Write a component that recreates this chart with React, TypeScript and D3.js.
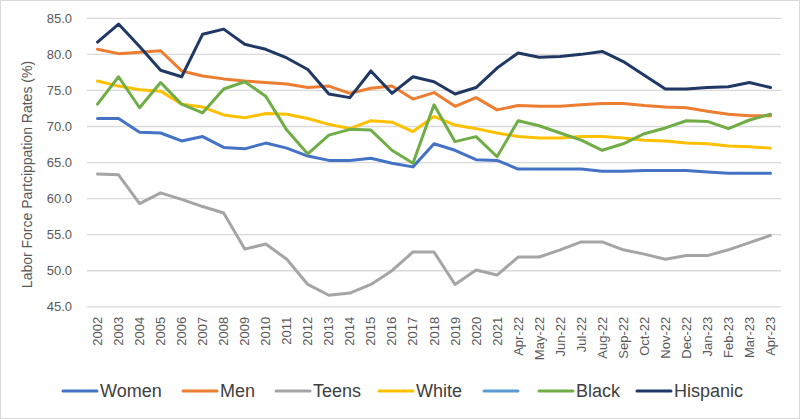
import React from "react";
import * as d3 from "d3";

const categories = [
  "2002","2003","2004","2005","2006","2007","2008","2009","2010","2011",
  "2012","2013","2014","2015","2016","2017","2018","2019","2020","2021",
  "Apr-22","May-22","Jun-22","Jul-22","Aug-22","Sep-22","Oct-22","Nov-22",
  "Dec-22","Jan-23","Feb-23","Mar-23","Apr-23",
];

const women = [71.1,71.1,69.2,69.1,68.0,68.6,67.1,66.9,67.7,67.0,65.9,65.3,65.3,65.6,64.9,64.4,67.6,66.7,65.4,65.3,64.1,64.1,64.1,64.1,63.8,63.8,63.9,63.9,63.9,63.7,63.5,63.5,63.5];
const men = [80.7,80.1,80.3,80.5,77.7,77.0,76.6,76.3,76.1,75.9,75.4,75.6,74.6,75.3,75.6,73.8,74.7,72.8,74.0,72.3,72.9,72.8,72.8,73.0,73.2,73.2,72.9,72.7,72.6,72.1,71.7,71.5,71.5];
const teens = [63.4,63.3,59.3,60.8,59.9,58.9,58.0,53.0,53.7,51.6,48.1,46.6,46.9,48.1,50.0,52.6,52.6,48.1,50.1,49.4,51.9,51.9,52.9,54.0,54.0,52.9,52.3,51.6,52.1,52.1,52.9,53.9,54.9];
const white = [76.3,75.6,75.1,74.9,73.1,72.7,71.6,71.2,71.8,71.7,71.1,70.3,69.7,70.8,70.6,69.3,71.4,70.2,69.7,69.1,68.6,68.4,68.4,68.6,68.6,68.4,68.1,68.0,67.7,67.6,67.3,67.2,67.0];
const black = [73.1,76.9,72.6,76.1,73.1,71.9,75.2,76.2,74.2,69.5,66.2,68.8,69.6,69.5,66.7,64.9,73.0,67.9,68.6,65.8,70.8,70.1,69.1,68.1,66.7,67.6,69.0,69.8,70.8,70.7,69.7,70.9,71.7];
const hispanic = [81.7,84.2,81.1,77.8,76.9,82.8,83.5,81.4,80.7,79.5,77.9,74.5,74.0,77.7,74.6,76.9,76.2,74.5,75.4,78.1,80.2,79.6,79.7,80.0,80.4,79.0,77.1,75.2,75.2,75.4,75.5,76.1,75.4];

const yTicks = [45, 50, 55, 60, 65, 70, 75, 80, 85];

const seriesNames = ["Women", "Men", "Teens", "White", "", "Black", "Hispanic"];
const seriesColors = ["#4472C4", "#ED7D31", "#A5A5A5", "#FFC000", "#5B9BD5", "#70AD47", "#203864"];
const seriesData: (number[] | null)[] = [women, men, teens, white, null, black, hispanic];
const drawOrder = [0, 1, 2, 3, 5, 6];
const legendX = [63, 183, 276, 379, 484, 539, 637];

const W = 800, H = 419;
const plot = { left: 87, right: 781, top: 18.3, bottom: 306.8 };
const FONT = "'Liberation Sans', Arial, sans-serif";

export default function App() {
  const x = d3.scaleBand<string>().domain(categories).range([plot.left, plot.right]).padding(0);
  const y = d3.scaleLinear().domain([45, 85]).range([plot.bottom, plot.top]);
  const cx = (c: string) => (x(c) as number) + x.bandwidth() / 2;

  const line = d3
    .line<number>()
    .x((_, i) => cx(categories[i]))
    .y((v) => y(v));

  return (
    <svg
      width={W}
      height={H}
      style={{ position: "absolute", left: 0, top: 0, background: "#fff" }}
      fontFamily={FONT}
    >
      <rect x={0.5} y={0.5} width={W - 1} height={H - 1} fill="#fff" stroke="#d9d9d9" />
      {yTicks.map((t) => (
        <g key={t}>
          <line x1={plot.left} x2={plot.right} y1={y(t)} y2={y(t)} stroke="#d9d9d9" strokeWidth={1.3} />
          <text x={72} y={y(t)} dy="0.35em" textAnchor="end" fontSize={13} fill="#595959">
            {t.toFixed(1)}
          </text>
        </g>
      ))}
      {categories.map((c) => (
        <text
          key={c}
          transform={`translate(${cx(c) + 4.5},${plot.bottom + 10}) rotate(-90)`}
          textAnchor="end"
          fontSize={13}
          fill="#595959"
        >
          {c}
        </text>
      ))}
      <text
        transform={`translate(32,${(plot.top + plot.bottom) / 2 + 12}) rotate(-90)`}
        textAnchor="middle"
        fontSize={14}
        fill="#595959"
      >
        Labor Force Partcippation Rates (%)
      </text>
      {drawOrder.map((si) => (
        <path
          key={si}
          d={line(seriesData[si] as number[]) || ""}
          fill="none"
          stroke={seriesColors[si]}
          strokeWidth={3}
          strokeLinejoin="round"
          strokeLinecap="round"
        />
      ))}
      {seriesNames.map((n, i) => (
        <g key={i} transform={`translate(${legendX[i]},391)`}>
          <line x1={0} x2={34} y1={0} y2={0} stroke={seriesColors[i]} strokeWidth={3} strokeLinecap="round" />
          <text x={37} y={0} dy="0.35em" fontSize={18} fill="#404040">
            {n}
          </text>
        </g>
      ))}
    </svg>
  );
}
